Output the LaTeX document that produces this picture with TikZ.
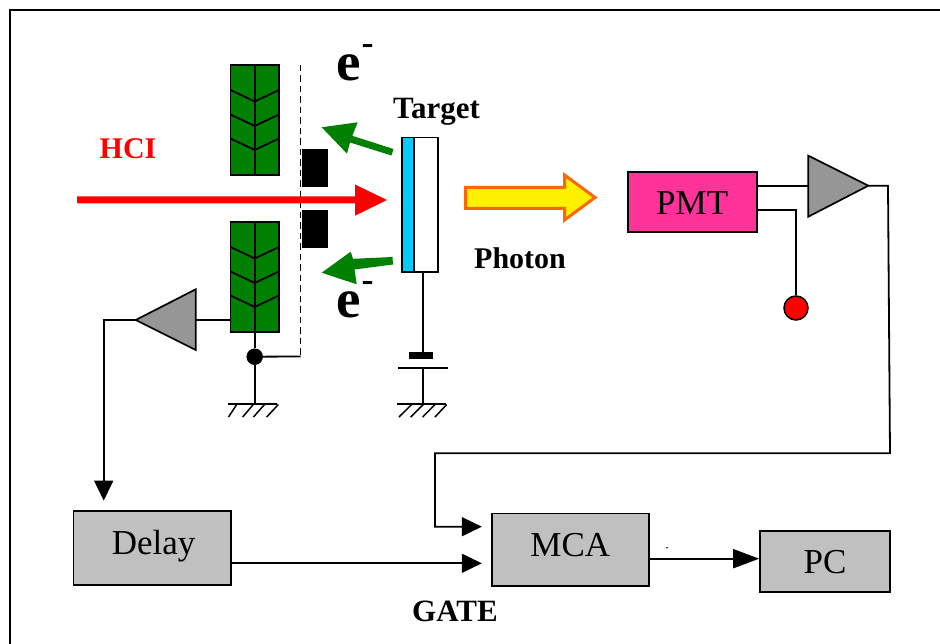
\documentclass[tikz,border=0pt]{standalone}
\usepackage{fontspec}
\setmainfont{Liberation Serif}
\usetikzlibrary{arrows.meta}
\definecolor{detgreen}{HTML}{008000}
\definecolor{tgtblue}{HTML}{00CCFF}
\definecolor{pmtpink}{HTML}{FF3399}
\definecolor{boxgray}{HTML}{C0C0C0}
\definecolor{ampgray}{HTML}{969696}
\definecolor{arrorange}{HTML}{FF6600}
\newcommand{\fsz}[1]{\fontsize{#1}{#1}\selectfont}
\tikzset{
  wire/.style={line width=1.8pt,black,line join=miter},
  tipped/.style={wire,-{Triangle[length=20pt,width=19pt]}},
  blockbox/.style={draw=black,line width=1.7pt,fill=boxgray,inner sep=0pt,font=\fsz{35},align=center},
  boldlabel/.style={inner sep=0pt,anchor=base west,font=\fsz{30}\bfseries},
  elabel/.style={inner sep=0pt,anchor=base west,font=\fsz{55}\bfseries},
  detector/.style={draw=black,line width=1.7pt,fill=detgreen},
  amp/.style={draw=black,line width=1.7pt,fill=ampgray,line join=miter},
  greenarrow/.style={fill=detgreen,draw=none},
}
\newcommand{\eminus}{e\kern1pt\raisebox{26pt}{\fsz{36}-}}
\begin{document}
\begin{tikzpicture}[x=1pt,y=-1pt]
\useasboundingbox (0,0) rectangle (940,644);
% frame
\draw[line width=1.8pt] (10,644) -- (10,10) -- (940,10);

% dashed mesh (behind the red beam)
\coordinate (meshtop) at (300.5,65);
\coordinate (meshbot) at (300.5,356.5);
\draw[line width=1.8pt,dash pattern=on 6.5pt off 4pt] (meshtop) -- (meshbot);

% black electrodes
\fill (302,149.3) rectangle (327.7,186.7);
\fill (302,210) rectangle (327.7,247.7);

% detectors
\foreach \t in {65,222}{
  \draw[detector] (230.5,\t) rectangle (279,\t+110);
  \draw[wire] (254.7,\t) -- (254.7,\t+110);
  \foreach \d in {25,49.5,73.5}{
    \draw[wire] (230.5,\t+\d) -- (254.7,\t+\d+11.5) -- (279,\t+\d);
  }
}

% target
\draw[line width=1.7pt,fill=tgtblue] (402,137.5) rectangle (414,271.7);
\draw[line width=1.7pt,fill=white] (414,137.5) rectangle (438,271.7);

% red beam
\fill[red] (77,196.5) -- (355,196.5) -- (355,184.5) -- (387,200) -- (355,215.7) -- (355,203.5) -- (77,203.5) -- cycle;

% green arrows
\fill[greenarrow] (321.7,127.3) -- (357.7,122.3) -- (352.3,135.8) -- (393.5,149) -- (391.5,155.5) -- (350,142.5) -- (347,153.7) -- cycle;
\fill[greenarrow] (321.7,272.7) -- (350.7,251.7) -- (353,258.8) -- (392.5,257) -- (393,264.5) -- (354.5,269.5) -- (356.7,284.3) -- cycle;

% photon arrow
\draw[draw=arrorange,line width=3pt,fill=yellow,line join=miter] (465.5,187.5) -- (564.5,187.5) -- (564.5,175) -- (595,197.5) -- (564.5,220) -- (564.5,208.5) -- (465.5,208.5) -- cycle;

% texts
\node[boldlabel,text=red] (hci) at (99.5,159) {HCI};
\node[boldlabel,font=\fsz{31}\bfseries] (target) at (393,119) {Target};
\node[boldlabel] (photon) at (474,268.5) {Photon};
\node[boldlabel,font=\fsz{31}\bfseries] (gate) at (412,621) {GATE};
\node[elabel] (eup) at (336,81) {\eminus};
\node[elabel] (edown) at (336,318) {\eminus};

% blocks
\node[blockbox,fill=pmtpink,minimum width=129pt,minimum height=60pt,text height=24.6pt,text depth=0pt] (pmt) at (692.2,202.2) {PMT};
\node[blockbox,minimum width=157.5pt,minimum height=73.7pt,text height=24pt,text depth=11pt] (delay) at (152.2,547.8) {\hspace{3pt}Delay};
\node[blockbox,minimum width=157.3pt,minimum height=72.7pt,text height=24pt,text depth=10.6pt] (mca) at (570.3,549.7) {MCA};
\node[blockbox,minimum width=130pt,minimum height=60.7pt,text height=24pt,text depth=0.8pt] (pc) at (825,561.4) {PC};

% right amplifier
\coordinate (ra1) at (808.3,155.7);
\coordinate (ra2) at (808.3,216.7);
\coordinate (ratip) at (868.3,185.7);
\draw[amp] (ra1) -- (ratip) -- (ra2) -- cycle;
\draw[wire] (pmt.east |- ratip) -- (ra1 |- ratip);
\coordinate (pmtbend) at (796,210);
\node[circle,draw=black,line width=1.5pt,fill=red,minimum size=24pt,inner sep=0pt] (bias) at (796,308) {};
\draw[wire] (pmt.east |- pmtbend) -- (pmtbend) -- (bias.north);

% long wire to MCA
\coordinate (r1) at (888,185.7);
\coordinate (r2) at (890,453.3);
\coordinate (r3) at (435,453.3);
\coordinate (r4) at (435,526.7);
\draw[tipped,shorten >=9pt] (ratip) -- (r1) -- (r2) -- (r3) -- (r4) -- (mca.west |- r4);

% left amplifier
\coordinate (la1) at (195.7,289.3);
\coordinate (la2) at (195.7,350);
\coordinate (latip) at (135.7,320);
\draw[amp] (la1) -- (latip) -- (la2) -- cycle;
\draw[wire] (230.5,320) -- (195.7,320);
\coordinate (l1) at (103.7,320);
\coordinate (l2) at (103.7,511);
\draw[tipped,shorten >=9.5pt] (latip) -- (l1) -- (delay.north -| l2);

% gate and output
\coordinate (gatey) at (0,563.3);
\draw[tipped,shorten >=9pt] (delay.east |- gatey) -- (mca.west |- gatey);
\coordinate (outy) at (0,558.7);
\draw[wire,-{Triangle[length=26pt,width=19pt]}] (mca.east |- outy) -- (pc.west |- outy);
\fill (667,547.7) circle (0.9pt);

% left junction and ground
\node[circle,fill=black,minimum size=16.5pt,inner sep=0pt] (junc) at (254.7,356.7) {};
\coordinate (lgnd) at (254.7,404);
\draw[wire] (254.7,332) -- (junc) -- (lgnd);
\draw[wire] (junc) -- (meshbot);
\draw[wire] (228,404) -- (276.7,404);
\foreach \a/\b in {236.7/228.5,253.3/242.7,264.5/253.5,278.3/266.7}{
  \draw[line width=1.5pt] (\a,404.5) -- (\b,417);
}

% target wire, capacitor and ground
\coordinate (cap) at (423.3,351.7);
\coordinate (plate) at (423.3,368.3);
\coordinate (tgnd) at (423.3,404);
\draw[wire] (423.3,271.7) -- (cap);
\fill (409.3,351.7) rectangle (432.7,359.3);
\draw[wire] (398,368.3) -- (447.7,368.3);
\draw[wire] (plate) -- (tgnd);
\draw[wire] (396.7,404) -- (446,404);
\foreach \a/\b in {411.7/399,423.3/410.7,435/422.7,446.7/435}{
  \draw[line width=1.5pt] (\a,404.5) -- (\b,417);
}
\end{tikzpicture}
\end{document}
